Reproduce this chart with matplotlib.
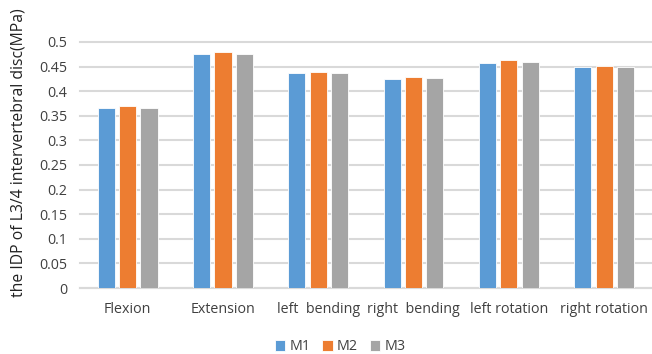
import numpy as np
import matplotlib
matplotlib.use('Agg')
import matplotlib.pyplot as plt

categories = ['Flexion', 'Extension', 'left  bending', 'right  bending',
              'left rotation', 'right rotation']
m1 = [0.366, 0.475, 0.437, 0.425, 0.457, 0.449]
m2 = [0.370, 0.479, 0.440, 0.429, 0.463, 0.452]
m3 = [0.366, 0.476, 0.436, 0.426, 0.459, 0.450]
series = [('M1', m1, '#5B9BD5'), ('M2', m2, '#ED7D31'), ('M3', m3, '#A5A5A5')]

plt.rcParams['font.family'] = ['Open Sans', 'DejaVu Sans']

fig = plt.figure(figsize=(6.52, 3.54), dpi=100)
ax = fig.add_axes([0.1227, 0.1864, 0.877, 0.695])

x = np.arange(len(categories))
pitch = 0.224
width = 0.18
for i, (name, vals, col) in enumerate(series):
    ax.bar(x + (i - 1) * pitch, vals, width, color=col, label=name,
           zorder=3, edgecolor='white', linewidth=0.6)

ax.set_xlim(-0.5, len(categories) - 0.5)
ax.set_ylim(0, 0.5)
ax.set_yticks(np.arange(0, 0.501, 0.05))
ax.set_yticklabels(['0', '0.05', '0.1', '0.15', '0.2', '0.25', '0.3',
                    '0.35', '0.4', '0.45', '0.5'])
ax.set_xticks(x)
ax.set_xticklabels(categories)
ax.tick_params(axis='both', length=0, labelsize=10.3, colors='#404040')
ax.tick_params(axis='y', pad=9)
ax.tick_params(axis='x', pad=10)

ax.grid(axis='y', color='#d9d9d9', linewidth=1.5, zorder=0, clip_on=False)
for s in ['top', 'right', 'left']:
    ax.spines[s].set_visible(False)
ax.spines['bottom'].set_color('#d9d9d9')
ax.spines['bottom'].set_linewidth(1.5)

ax.set_ylabel('the IDP of L3/4 intervertebral disc(MPa)', fontsize=11.3,
              color='#222222')
ax.yaxis.set_label_coords(-0.093, 0.55)

ax.legend(loc='lower center', bbox_to_anchor=(0.455, -0.31), ncol=3,
          frameon=False, fontsize=10.3, handlelength=0.75, handleheight=0.75,
          handletextpad=0.3, columnspacing=0.8, labelcolor='#404040',
          borderpad=0.2)

fig.savefig('out.png', dpi=100)
